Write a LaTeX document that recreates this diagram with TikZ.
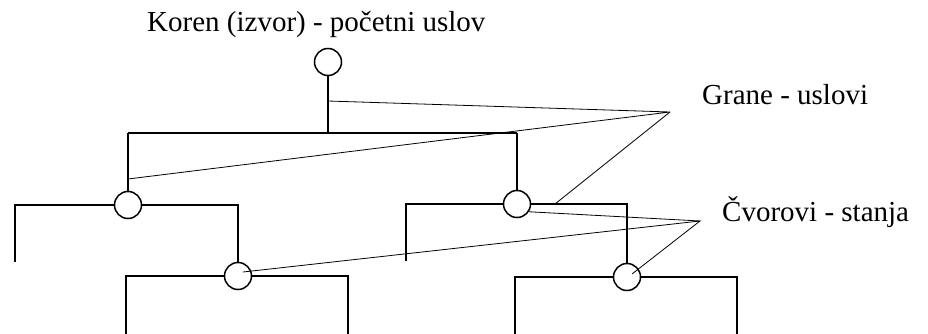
\documentclass[tikz,border=0pt]{standalone}
\usepackage{fontspec}
\setmainfont{Liberation Serif}
\begin{document}
\begin{tikzpicture}[x=1pt,y=-1pt,
  st/.style={circle,draw,line width=1.5pt,minimum size=27pt,inner sep=0pt},
  br/.style={line width=1.5pt},
  ann/.style={line width=0.8pt},
  lbl/.style={font=\fontsize{29}{34}\selectfont,anchor=base west,inner sep=0pt}]
\useasboundingbox (0,0) rectangle (928,334);
% labels
\node[lbl] (tkoren) at (147,32) {Koren (izvor) - početni uslov};
\node[lbl] (tgrane) at (702,105) {Grane - uslovi};
\node[lbl] (tcvor) at (722,221) {Čvorovi - stanja};
% state nodes
\node[st] (root) at (328,62) {};
\node[st] (ln) at (128,205) {};
\node[st] (rn) at (517,204) {};
\node[st] (lln) at (238,276) {};
\node[st] (lrn) at (627,277) {};
% branch points
\coordinate (top) at (328,133);
\coordinate (tl) at (128,133);
\coordinate (tr) at (517,133);
\coordinate (e1) at (15,262);
\coordinate (e2) at (126,334);
\coordinate (e3) at (348,334);
\coordinate (e4) at (406,261);
\coordinate (e5) at (515,334);
\coordinate (e6) at (737,334);
% branches
\draw[br] (root.south) -- (top);
\draw[br] (tl) -- (tr);
\draw[br] (tl) -- (ln.north);
\draw[br] (tr) -- (rn.north);
\draw[br] (ln.west) -| (e1);
\draw[br] (ln.east) -| (lln.north);
\draw[br] (lln.west) -| (e2);
\draw[br] (lln.east) -| (e3);
\draw[br] (rn.west) -| (e4);
\draw[br] (rn.east) -| (lrn.north);
\draw[br] (lrn.west) -| (e5);
\draw[br] (lrn.east) -| (e6);
% annotation pointers
\coordinate (G) at (670,112);
\coordinate (C) at (700,221);
\coordinate (g1) at (328,101);
\coordinate (g2) at (128,179);
\coordinate (g3) at (555,204);
\coordinate (c2) at ([shift={(5,-4)}]lln.center);
\coordinate (c3) at ([shift={(5,-3)}]lrn.center);
\draw[ann] (g1) -- (G) -- (g2);
\draw[ann] (g3) -- (G);
\draw[ann] (rn.-33) -- (C);
\draw[ann] (c2) -- (C) -- (c3);
\end{tikzpicture}
\end{document}
